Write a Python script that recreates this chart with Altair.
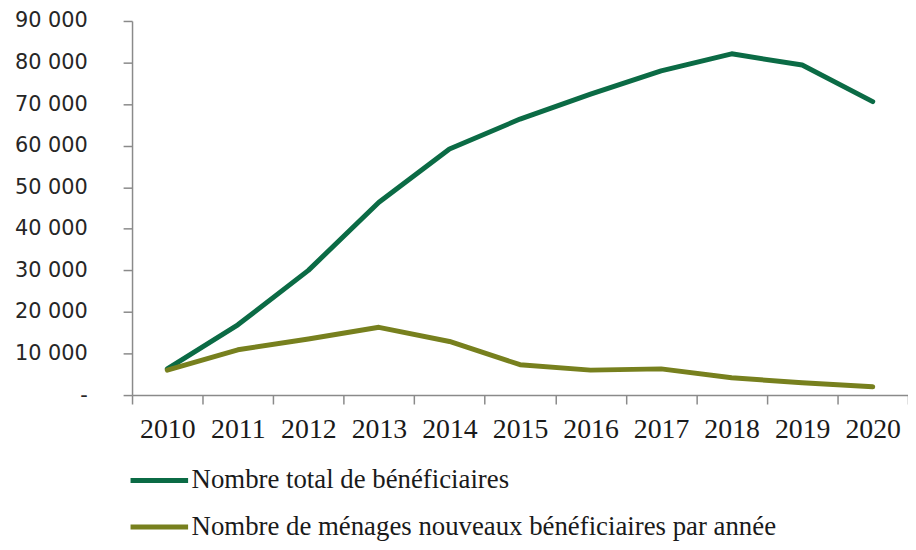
import altair as alt
import pandas as pd

years = ["2010", "2011", "2012", "2013", "2014", "2015", "2016", "2017", "2018", "2019", "2020"]
total = [6300, 16900, 30000, 46400, 59200, 66400, 72400, 78000, 82100, 79400, 70600]
nouveaux = [6000, 10900, 13500, 16300, 12900, 7300, 6000, 6300, 4150, 2950, 2000]
series = ["Nombre total de bénéficiaires", "Nombre de ménages nouveaux bénéficiaires par année"]
colors = ["#0B6B45", "#77801E"]

rows = []
for y, t, n in zip(years, total, nouveaux):
    rows.append({"annee": y, "valeur": t, "serie": series[0]})
    rows.append({"annee": y, "valeur": n, "serie": series[1]})
df = pd.DataFrame(rows)

axis_gray = "#8a8a8a"

chart = alt.Chart(df).mark_line(strokeWidth=5, strokeJoin="round", strokeCap="round").encode(
    x=alt.X("annee:N", sort=years,
            scale=alt.Scale(paddingInner=0, paddingOuter=0),
            axis=alt.Axis(title=None, labelAngle=0, tickBand="extent", tickSize=9,
                          tickColor=axis_gray, domainColor=axis_gray, domainWidth=1.5, tickWidth=1.5,
                          labelFont="Liberation Serif", labelFontSize=28, labelColor="#1a1a1a",
                          labelPadding=12)),
    y=alt.Y("valeur:Q", scale=alt.Scale(domain=[0, 90000], nice=False),
            axis=alt.Axis(title=None, values=list(range(0, 90001, 10000)), grid=False,
                          tickSize=9, tickColor=axis_gray, domainColor=axis_gray, domainWidth=1.5, tickWidth=1.5,
                          labelFont="DejaVu Sans", labelFontSize=21, labelColor="#262626",
                          labelPadding=36,
                          labelExpr="datum.value == 0 ? '-\u2002\u2002' : replace(format(datum.value, ','), ',', ' ')")),
    color=alt.Color("serie:N", sort=series,
                    scale=alt.Scale(domain=series, range=colors),
                    legend=alt.Legend(title=None, orient="none", legendX=10.5, legendY=446,
                                      direction="vertical", symbolType="M-2,0H2", symbolSize=841,
                                      symbolStrokeWidth=5, symbolFillColor="transparent",
                                      labelFont="Liberation Serif",
                                      labelFontSize=27, labelColor="#1a1a1a", labelLimit=900,
                                      labelOffset=15.5, rowPadding=17)),
).properties(
    width=782, height=377,
    autosize=alt.AutoSizeParams(type="none"),
    padding={"left": 125, "top": 11, "right": 0, "bottom": 146},
).configure_view(stroke=None)

chart.save("out.html", embed_options={"renderer": "svg", "actions": False})
